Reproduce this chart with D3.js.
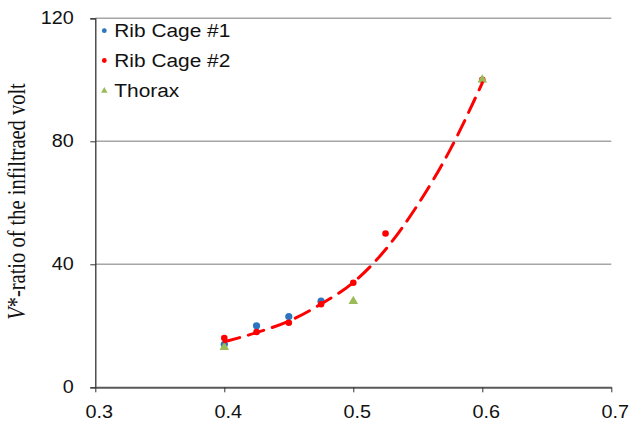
<!DOCTYPE html>
<html>
<head>
<meta charset="utf-8">
<script src="https://cdn.jsdelivr.net/npm/d3@7"></script>
<style>
  body { margin: 0; background: #fff; }
  svg { display: block; }
</style>
</head>
<body>
<svg id="chart" width="630" height="422"></svg>
<script>
// data
var xTicks = [0.3, 0.4, 0.5, 0.6, 0.7];
var yTicks = [0, 40, 80, 120];

var ribCage1X = [0.4, 0.425, 0.45, 0.475];
var ribCage1Y = [14, 20, 23, 28];

var ribCage2X = [0.4, 0.425, 0.45, 0.475, 0.5, 0.525, 0.6];
var ribCage2Y = [16, 18, 21, 27, 34, 50, 100];

var thoraxX = [0.4, 0.5, 0.6];
var thoraxY = [13, 28, 100];

// trendline (Rib Cage #2)
var trendX = [0.4, 0.425, 0.45, 0.475, 0.5, 0.525, 0.55, 0.575, 0.6];
var trendY = [14.8, 17.8, 21.5, 27.1, 34.1, 44.8, 59.4, 77.2, 99];

var svg = d3.select('#chart');
var x = d3.scaleLinear().domain([0.3, 0.7]).range([95.3, 611.3]);
var y = d3.scaleLinear().domain([0, 120]).range([387.3, 18.3]);
var SX = 1.1; // picture is stretched sideways, so is the text

function zip(xs, ys) {
	return xs.map(function (v, i) { return [v, ys[i]]; });
}

// gridlines
svg.append('g').selectAll('line')
	.data(yTicks.filter(function (d) { return d > 0; }))
	.enter().append('line')
	.attr('x1', x(0.3)).attr('x2', x(0.7))
	.attr('y1', function (d) { return y(d); })
	.attr('y2', function (d) { return y(d); })
	.attr('stroke', '#a6a6a6').attr('stroke-width', 1.5);

// y axis
var yAxis = svg.append('g')
	.attr('transform', 'translate(' + x(0.3) + ',0)')
	.call(d3.axisLeft(y).tickValues(yTicks).tickSize(5).tickFormat(d3.format('d')));
yAxis.select('.domain').attr('stroke', '#333').attr('stroke-width', 1.3);
yAxis.selectAll('.tick line').attr('stroke', '#333');
yAxis.selectAll('.tick text')
	.attr('x', -21.5 / SX).attr('dy', '0.3em')
	.attr('transform', 'scale(' + SX + ',1)')
	.attr('font-family', 'Liberation Sans, Arial, sans-serif')
	.attr('font-size', 18).attr('fill', '#111');

// x axis
var xAxis = svg.append('g')
	.attr('transform', 'translate(0,' + y(0) + ')')
	.call(d3.axisBottom(x).tickValues(xTicks).tickSize(5).tickSizeOuter(0).tickFormat(d3.format('.1f')));
xAxis.select('.domain').attr('stroke', '#595959').attr('stroke-width', 2);
xAxis.selectAll('.tick line').attr('stroke', '#333');
xAxis.selectAll('.tick text')
	.attr('x', 3.5 / SX).attr('y', 30.4).attr('dy', 0)
	.attr('transform', 'scale(' + SX + ',1)')
	.attr('font-family', 'Liberation Sans, Arial, sans-serif')
	.attr('font-size', 18).attr('fill', '#111');

// markers
var tri = d3.symbol().type(d3.symbolTriangle).size(40);

svg.append('g').selectAll('circle')
	.data(zip(ribCage1X, ribCage1Y))
	.enter().append('circle')
	.attr('cx', function (d) { return x(d[0]); })
	.attr('cy', function (d) { return y(d[1]); })
	.attr('r', 3.6).attr('fill', '#2e75c0');

svg.append('g').selectAll('circle')
	.data(zip(ribCage2X, ribCage2Y))
	.enter().append('circle')
	.attr('cx', function (d) { return x(d[0]); })
	.attr('cy', function (d) { return y(d[1]); })
	.attr('r', 3.3).attr('fill', '#ff0000');

svg.append('g').selectAll('path')
	.data(zip(thoraxX, thoraxY))
	.enter().append('path')
	.attr('d', tri)
	.attr('transform', function (d) { return 'translate(' + x(d[0]) + ',' + y(d[1]) + ')'; })
	.attr('fill', '#9bbb59');

// trendline
var line = d3.line()
	.x(function (d) { return x(d[0]); })
	.y(function (d) { return y(d[1]); })
	.curve(d3.curveMonotoneX);
svg.append('path')
	.datum(zip(trendX, trendY))
	.attr('d', line)
	.attr('fill', 'none')
	.attr('stroke', '#ff0000')
	.attr('stroke-width', 3)
	.attr('stroke-linecap', 'round')
	.attr('stroke-dasharray', '16,9');

// legend
var legend = [
	{ name: 'Rib Cage #1', type: 'circle', color: '#2e75c0' },
	{ name: 'Rib Cage #2', type: 'circle', color: '#ff0000' },
	{ name: 'Thorax', type: 'triangle', color: '#9bbb59' }
];
var lg = svg.append('g');
legend.forEach(function (item, i) {
	var cy = 30.7 + i * 29.8;
	if (item.type == 'circle') {
		lg.append('circle').attr('cx', 104.3).attr('cy', cy).attr('r', 2.4).attr('fill', item.color);
	} else {
		lg.append('path').attr('d', d3.symbol().type(d3.symbolTriangle).size(18))
			.attr('transform', 'translate(104.3,' + (cy + 0.5) + ')').attr('fill', item.color);
	}
	lg.append('text')
		.attr('transform', 'translate(114.3,' + (cy + 6.6) + ') scale(1.16,1)')
		.attr('font-family', 'Liberation Sans, Arial, sans-serif')
		.attr('font-size', 18).attr('fill', '#111')
		.text(item.name);
});

// y axis title
var title = svg.append('text')
	.attr('transform', 'translate(24.5,201.5) scale(1.2,1) rotate(-90)')
	.attr('text-anchor', 'middle')
	.attr('font-family', 'Liberation Serif, Times New Roman, serif')
	.attr('font-size', 20.5).attr('fill', '#111');
title.append('tspan').attr('font-style', 'italic').text('V');
title.append('tspan').text('*-ratio of the infiltraed volt');
</script>
</body>
</html>
